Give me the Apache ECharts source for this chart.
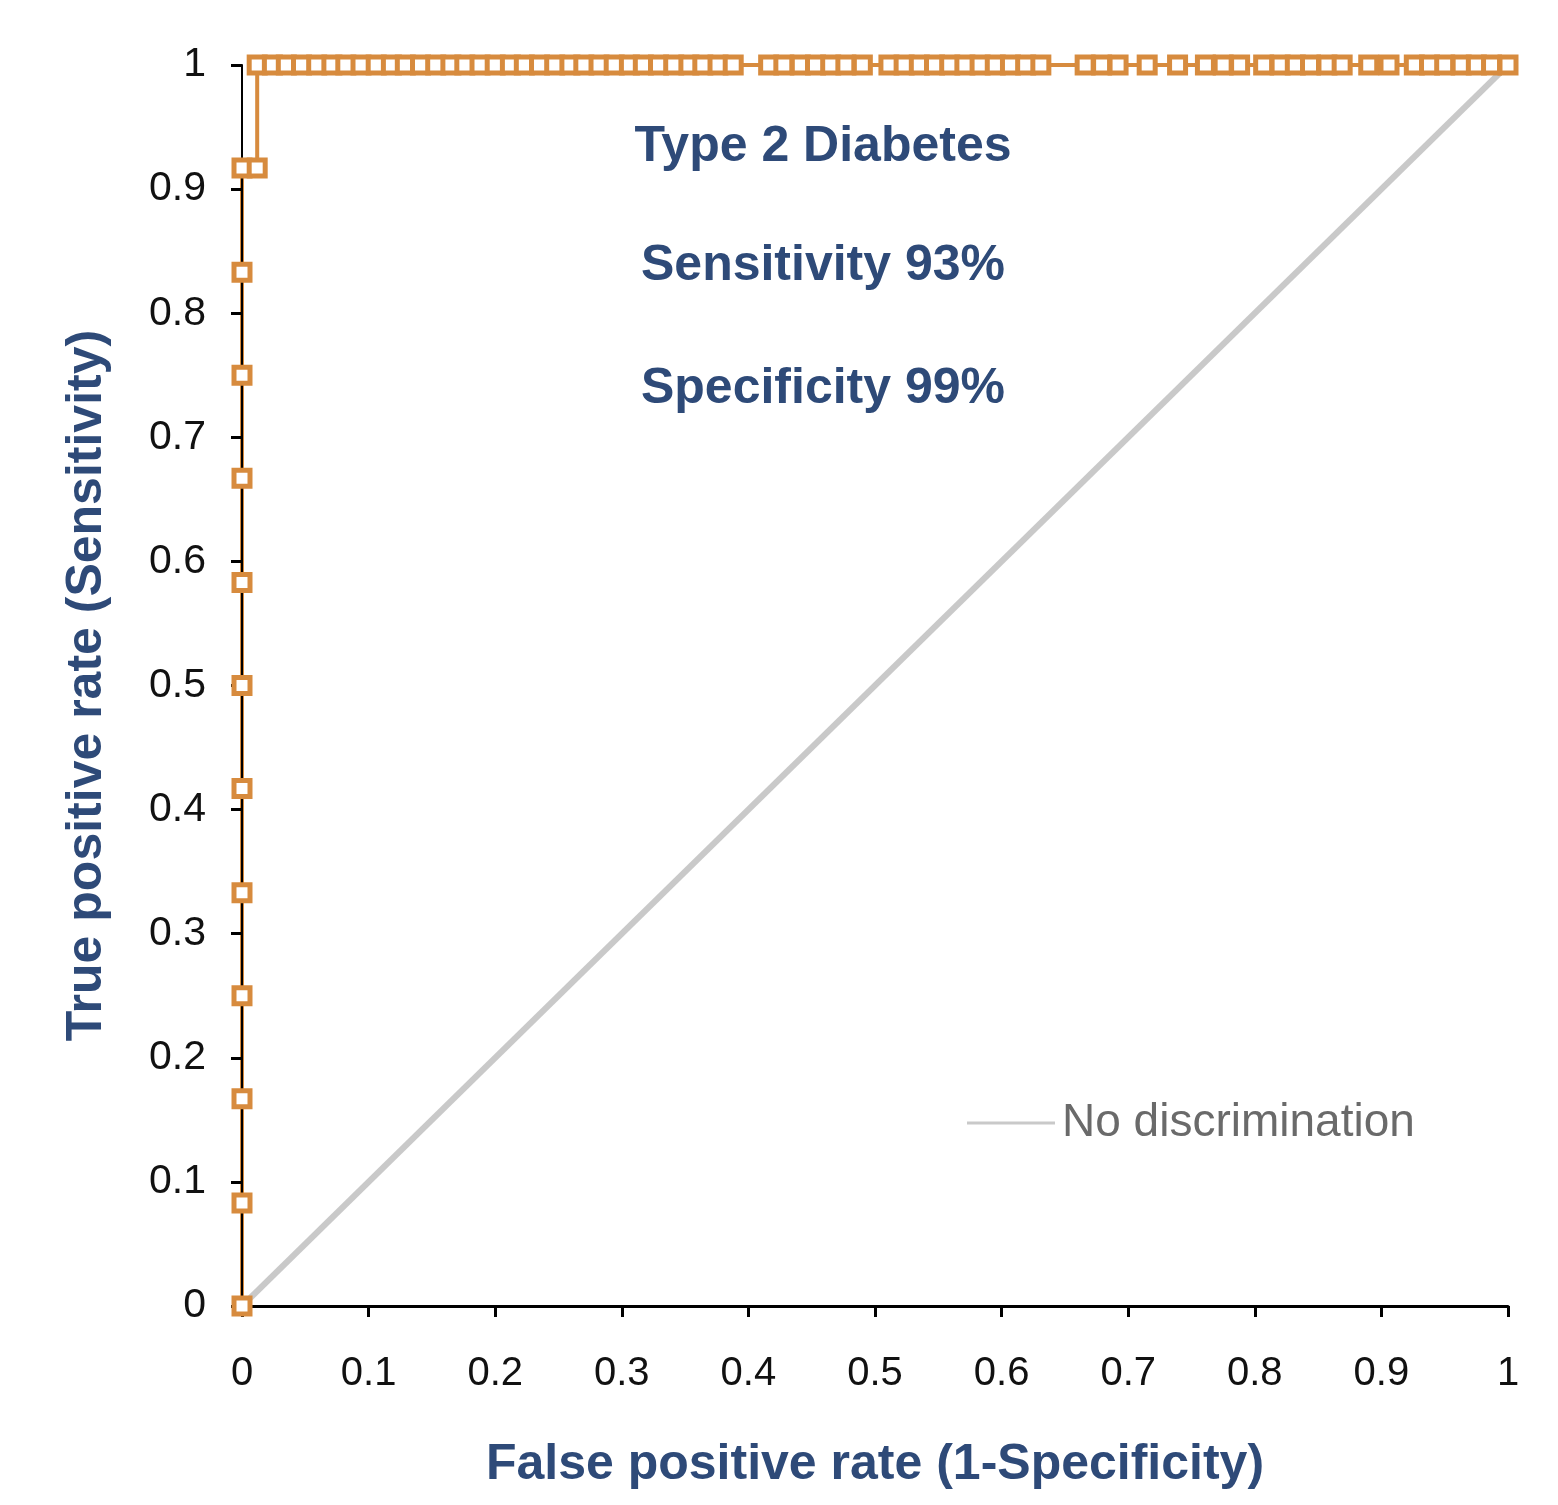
<!DOCTYPE html>
<html>
<head>
<meta charset="utf-8">
<script src="https://cdn.jsdelivr.net/npm/echarts@6/dist/echarts.min.js"></script>
<style>
  html, body { margin: 0; padding: 0; background: #ffffff; }
  #chart { width: 1558px; height: 1505px; }
</style>
</head>
<body>
<div id="chart"></div>
<script>
// ROC curve: false positive rate (x) and true positive rate (y)
const rocFpr = [
  0, 0, 0, 0, 0, 0, 0, 0, 0, 0, 0, 0,
  0.012,
  0.012, 0.024, 0.035, 0.047, 0.059, 0.071, 0.082, 0.094, 0.106, 0.118, 0.129,
  0.141, 0.153, 0.165, 0.176, 0.188, 0.200, 0.212, 0.223, 0.235, 0.247, 0.259,
  0.270, 0.282, 0.294, 0.306, 0.317, 0.329, 0.341, 0.353, 0.364, 0.376, 0.388,
  0.416, 0.428, 0.441, 0.453, 0.465, 0.477, 0.490,
  0.511, 0.523, 0.535, 0.547, 0.559, 0.571, 0.583, 0.595, 0.607, 0.619, 0.631,
  0.666, 0.679, 0.692,
  0.715,
  0.739,
  0.761, 0.775, 0.788,
  0.807, 0.820, 0.832, 0.844, 0.857, 0.869,
  0.890, 0.906,
  0.926, 0.938, 0.950, 0.963, 0.975, 0.987, 1.0
];
const rocTpr = [
  0, 0.083, 0.167, 0.25, 0.333, 0.417, 0.5, 0.583, 0.667, 0.75, 0.833, 0.917,
  0.917,
  1, 1, 1, 1, 1, 1, 1, 1, 1, 1, 1,
  1, 1, 1, 1, 1, 1, 1, 1, 1, 1, 1,
  1, 1, 1, 1, 1, 1, 1, 1, 1, 1, 1,
  1, 1, 1, 1, 1, 1, 1,
  1, 1, 1, 1, 1, 1, 1, 1, 1, 1, 1,
  1, 1, 1,
  1,
  1,
  1, 1, 1,
  1, 1, 1, 1, 1, 1,
  1, 1,
  1, 1, 1, 1, 1, 1, 1
];
// Reference "no discrimination" diagonal
const diagX = [0, 1];
const diagY = [0, 1];

const titleText = 'Type 2 Diabetes';
const sensText = 'Sensitivity 93%';
const specText = 'Specificity 99%';
const xTitle = 'False positive rate (1-Specificity)';
const yTitle = 'True positive rate (Sensitivity)';
const legendName = 'No discrimination';

const FONT = '"Liberation Sans", Arial, Helvetica, sans-serif';
const NAVY = '#2E4A78';
const ORANGE = '#D78B3E';
const GRAY = '#C9C9C9';

const rocData = rocFpr.map((x, i) => [x, rocTpr[i]]);
const diagData = diagX.map((x, i) => [x, diagY[i]]);

const chart = echarts.init(document.getElementById('chart'), null, { renderer: 'canvas' });
chart.setOption({
  backgroundColor: '#ffffff',
  animation: false,
  grid: { left: 242, top: 65, right: 50, bottom: 199, containLabel: false },
  xAxis: {
    type: 'value', min: 0, max: 1, interval: 0.1,
    name: xTitle, nameLocation: 'middle', nameGap: 134,
    nameTextStyle: { fontFamily: FONT, fontSize: 50, fontWeight: 'bold', color: NAVY },
    axisLine: { show: true, lineStyle: { color: '#000', width: 3 } },
    axisTick: { show: true, inside: false, length: 11, lineStyle: { color: '#000', width: 3 } },
    axisLabel: { fontFamily: FONT, fontSize: 40, color: '#111', margin: 48 },
    splitLine: { show: false }
  },
  yAxis: {
    type: 'value', min: 0, max: 1, interval: 0.1, z: 3,
    name: yTitle, nameLocation: 'middle', nameGap: 130,
    nameTextStyle: { fontFamily: FONT, fontSize: 50, fontWeight: 'bold', color: NAVY },
    axisLine: { show: true, lineStyle: { color: '#000', width: 2 } },
    axisTick: { show: true, inside: false, length: 11, lineStyle: { color: '#000', width: 3 } },
    axisLabel: { fontFamily: FONT, fontSize: 41, color: '#111', margin: 36 },
    splitLine: { show: false }
  },
  legend: {
    data: [{ name: legendName, icon: 'rect' }],
    left: 962, top: 1095,
    itemWidth: 88, itemHeight: 3, itemGap: 10,
    itemStyle: { color: GRAY },
    textStyle: { fontFamily: FONT, fontSize: 46, color: '#6A6A6A', padding: [0, 0, 0, 2] }
  },
  series: [
    {
      name: legendName, type: 'line', data: diagData, z: 1,
      symbol: 'none', showSymbol: false,
      lineStyle: { color: GRAY, width: 6 },
      itemStyle: { color: GRAY }
    },
    {
      name: 'ROC', type: 'line', data: rocData, z: 2,
      symbol: 'none', showSymbol: false,
      lineStyle: { color: ORANGE, width: 4 }
    },
    {
      name: 'ROC points', type: 'scatter', data: rocData, z: 4,
      symbol: 'rect', symbolSize: 16,
      itemStyle: { color: '#ffffff', borderColor: ORANGE, borderWidth: 5, opacity: 1 }
    }
  ],
  graphic: [
    { type: 'text', x: 823, y: 147, style: { text: titleText, fontFamily: FONT, fontSize: 50, fontWeight: 'bold', fill: NAVY, align: 'center', verticalAlign: 'middle' } },
    { type: 'text', x: 823, y: 266, style: { text: sensText, fontFamily: FONT, fontSize: 50, fontWeight: 'bold', fill: NAVY, align: 'center', verticalAlign: 'middle' } },
    { type: 'text', x: 823, y: 389, style: { text: specText, fontFamily: FONT, fontSize: 50, fontWeight: 'bold', fill: NAVY, align: 'center', verticalAlign: 'middle' } }
  ]
});
</script>
</body>
</html>
